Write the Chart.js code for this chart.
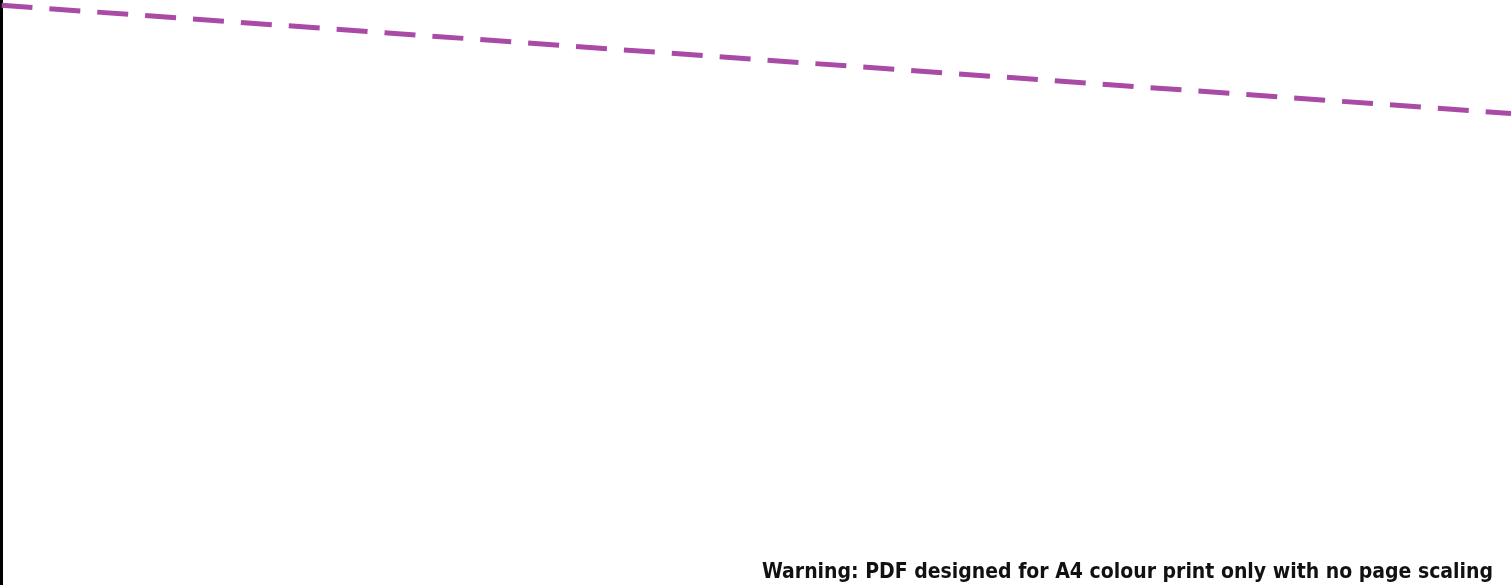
<!DOCTYPE html>
<html lang="en">
<head>
  <meta charset="UTF-8">
  <title>Dashed trend</title>
  <script src="https://cdn.jsdelivr.net/npm/chart.js"></script>
  <style>
    html, body { margin: 0; padding: 0; background: #fff; }
    .chart-container { position: relative; width: 1511px; height: 585px; }
    .warning {
      position: absolute;
      right: 18px;
      bottom: 2px;
      font-family: "DejaVu Sans Condensed", "DejaVu Sans", sans-serif;
      font-weight: bold;
      font-size: 21px;
      color: #111;
    }
  </style>
</head>
<body>

<div class="chart-container">
  <canvas id="trend-chart" width="1511" height="585"></canvas>
  <div class="warning">Warning: PDF designed for A4 colour print only with no page scaling</div>
</div>

<script>
// Data
const xValues = [0, 100];
const yValues = [99.1, 80.6];

const ctx = document.getElementById('trend-chart').getContext('2d');
const trendChart = new Chart(ctx, {
  type: 'line',
  data: {
    datasets: [{
      data: xValues.map((x, i) => ({ x: x, y: yValues[i] })),
      borderColor: '#a94aa6',
      borderWidth: 5,
      borderDash: [31, 17],
      pointRadius: 0,
      fill: false
    }]
  },
  options: {
    responsive: false,
    animation: false,
    layout: { padding: { left: 1.5, right: 0, top: 0, bottom: 0 } },
    plugins: {
      legend: { display: false },
      tooltip: { enabled: false }
    },
    scales: {
      x: {
        type: 'linear',
        min: 0,
        max: 100,
        display: false
      },
      y: {
        min: 0,
        max: 100,
        afterFit: (scale) => { scale.width = 0; },
        ticks: { display: false },
        grid: { display: false },
        border: { display: true, color: '#000', width: 3 }
      }
    }
  }
});
</script>

</body>
</html>
